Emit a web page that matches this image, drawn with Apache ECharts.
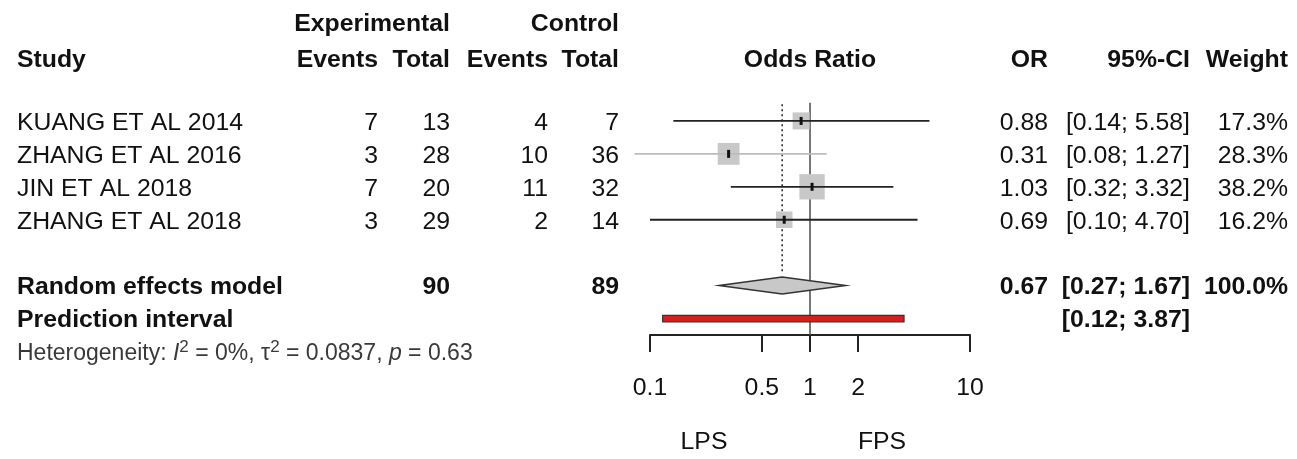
<!DOCTYPE html>
<html><head><meta charset="utf-8">
<script src="https://cdn.jsdelivr.net/npm/echarts@6/dist/echarts.min.js"></script>
<style>html,body{margin:0;padding:0;background:#fff}#c{width:1297px;height:459px}</style>
</head><body><div id="c"></div>
<script>
// ---------- data ----------
const studies   = ['KUANG ET AL 2014', 'ZHANG ET AL 2016', 'JIN ET AL 2018', 'ZHANG ET AL 2018'];
const expEvents = [7, 3, 7, 3];
const expTotal  = [13, 28, 20, 29];
const ctlEvents = [4, 10, 11, 2];
const ctlTotal  = [7, 36, 32, 14];
const oddsRatio = [0.88, 0.31, 1.03, 0.69];
const ciLower   = [0.14, 0.08, 0.32, 0.10];
const ciUpper   = [5.58, 1.27, 3.32, 4.70];
const weights   = [17.3, 28.3, 38.2, 16.2];
const pooledTotals = [90, 89];
const pooledOR  = [0.67];
const pooledCI  = [0.27, 1.67];
const pooledWeight = [100.0];
const predCI    = [0.12, 3.87];
const heteroI2  = ['0%'];
const heteroTau2 = ['0.0837'];
const heteroP   = ['0.63'];
const tickValues = [0.1, 0.5, 1, 2, 10];
const tickLabels = ['0.1', '0.5', '1', '2', '10'];
const favourLabels = ['LPS', 'FPS'];

// ---------- layout / style ----------
const FONT = "'Liberation Sans', Arial, sans-serif";
const FS = 24.8;
const TXT = '#111';
const TEXT_DY = 2;
const studyRows = [1, 2, 3, 4];
const rowRE = 6, rowPI = 7;
const rowHead1 = -2.0, rowHead2 = -0.91, rowHet = 8.0, rowFav = 10.69;
const col = {study: 17, expEv: 378, expTot: 450, ctlEv: 548, ctlTot: 619, odds: 810, or: 1048, ci: 1190, w: 1288};
const favX = [704, 882];
const lineColors = ['#222', '#bdbdbd', '#222', '#222'];
const L = Math.log10;
const fmtCI = (a, b) => '[' + a.toFixed(2) + '; ' + b.toFixed(2) + ']';

// ---------- text entries ----------
const texts = [];
function T(x, u, text, align, bold, extra) {
  texts.push(Object.assign({x, u, text, align, bold}, extra || {}));
}
T(col.expTot, rowHead1, 'Experimental', 'right', true);
T(col.ctlTot, rowHead1, 'Control', 'right', true);
T(col.study, rowHead2, 'Study', 'left', true);
T(col.expEv, rowHead2, 'Events', 'right', true);
T(col.expTot, rowHead2, 'Total', 'right', true);
T(col.ctlEv, rowHead2, 'Events', 'right', true);
T(col.ctlTot, rowHead2, 'Total', 'right', true);
T(col.odds, rowHead2, 'Odds Ratio', 'center', true);
T(col.or, rowHead2, 'OR', 'right', true);
T(col.ci, rowHead2, '95%-CI', 'right', true);
T(col.w, rowHead2, 'Weight', 'right', true);
studies.forEach((s, i) => {
  const u = studyRows[i];
  T(col.study, u, s, 'left', false);
  T(col.expEv, u, String(expEvents[i]), 'right', false);
  T(col.expTot, u, String(expTotal[i]), 'right', false);
  T(col.ctlEv, u, String(ctlEvents[i]), 'right', false);
  T(col.ctlTot, u, String(ctlTotal[i]), 'right', false);
  T(col.or, u, oddsRatio[i].toFixed(2), 'right', false);
  T(col.ci, u, fmtCI(ciLower[i], ciUpper[i]), 'right', false);
  T(col.w, u, weights[i].toFixed(1) + '%', 'right', false);
});
T(col.study, rowRE, 'Random effects model', 'left', true);
T(col.expTot, rowRE, String(pooledTotals[0]), 'right', true);
T(col.ctlTot, rowRE, String(pooledTotals[1]), 'right', true);
T(col.or, rowRE, pooledOR[0].toFixed(2), 'right', true);
T(col.ci, rowRE, fmtCI(pooledCI[0], pooledCI[1]), 'right', true);
T(col.w, rowRE, pooledWeight[0].toFixed(1) + '%', 'right', true);
T(col.study, rowPI, 'Prediction interval', 'left', true);
T(col.ci, rowPI, fmtCI(predCI[0], predCI[1]), 'right', true);
T(col.study, rowHet, 'Heterogeneity: {i|I}{sup|2} = ' + heteroI2[0] + ', τ{sup|2} = ' + heteroTau2[0] + ', {i|p} = ' + heteroP[0], 'left', false,
  {size: 23, color: '#3a3a3a', rich: {
    i: {fontStyle: 'italic', fontSize: 23, fontFamily: FONT, fill: '#3a3a3a', lineHeight: 30},
    sup: {fontSize: 17, fontFamily: FONT, fill: '#3a3a3a', verticalAlign: 'top', lineHeight: 12}
  }});
T(favX[0], rowFav, favourLabels[0], 'center', false);
T(favX[1], rowFav, favourLabels[1], 'center', false);

// ---------- chart ----------
const chart = echarts.init(document.getElementById('c'), null, {renderer: 'canvas'});
const tickLogs = tickValues.map(L);

const option = {
  animation: false,
  backgroundColor: '#fff',
  grid: [
    {left: 650, width: 320, top: 88, height: 247},
    {left: 0, width: 1297, top: 88, height: 247}
  ],
  xAxis: [
    {gridIndex: 0, type: 'value', position: 'bottom', min: -1, max: 1, splitLine: {show: false},
     axisLine: {show: true, onZero: false, lineStyle: {color: '#222', width: 2}},
     axisTick: {show: true, inside: false, length: 17, lineStyle: {color: '#222', width: 2}, customValues: tickLogs},
     axisLabel: {customValues: tickLogs, margin: 41, color: TXT, fontSize: FS, fontFamily: FONT,
       formatter: v => { const k = tickLogs.findIndex(t => Math.abs(t - v) < 1e-6); return k >= 0 ? tickLabels[k] : ''; }}},
    {gridIndex: 1, type: 'value', min: 0, max: 1297, show: false}
  ],
  yAxis: [
    {gridIndex: 0, type: 'value', min: 0, max: 7.5, inverse: true, show: false},
    {gridIndex: 1, type: 'value', min: 0, max: 7.5, inverse: true, show: false}
  ],
  series: [
    // reference line at OR = 1 and dotted pooled line
    {type: 'custom', xAxisIndex: 0, yAxisIndex: 0, clip: false, silent: true,
     data: [[0, 0.45, 7.5, 0], [L(pooledOR[0]), 0.49, 5.62, 1]],
     renderItem: (p, api) => {
       const a = api.coord([api.value(0), api.value(1)]);
       const b = api.coord([api.value(0), api.value(2)]);
       const dotted = api.value(3) === 1;
       return {type: 'line', shape: {x1: a[0], y1: a[1], x2: b[0], y2: b[1]},
         style: dotted ? {stroke: '#222', lineWidth: 1.5, lineDash: [2, 3]} : {stroke: '#555', lineWidth: 1.6}};
     }},
    // study squares and CIs
    {type: 'custom', xAxisIndex: 0, yAxisIndex: 0, clip: false, silent: true,
     data: studies.map((s, i) => [L(oddsRatio[i]), studyRows[i], L(ciLower[i]), L(ciUpper[i]), weights[i]]),
     renderItem: (p, api) => {
       const i = p.dataIndex;
       const c = api.coord([api.value(0), api.value(1)]);
       const lo = api.coord([api.value(2), api.value(1)]);
       const hi = api.coord([api.value(3), api.value(1)]);
       const s = 4.1 * Math.sqrt(api.value(4));
       return {type: 'group', children: [
         {type: 'rect', shape: {x: c[0] - s / 2, y: c[1] - s / 2, width: s, height: s}, style: {fill: '#c8c8c8'}},
         {type: 'line', shape: {x1: lo[0], y1: lo[1], x2: hi[0], y2: hi[1]}, style: {stroke: lineColors[i], lineWidth: 1.8}},
         {type: 'rect', shape: {x: c[0] - 1.5, y: c[1] - 4, width: 3, height: 8}, style: {fill: '#111'}}
       ]};
     }},
    // pooled diamond
    {type: 'custom', xAxisIndex: 0, yAxisIndex: 0, clip: false, silent: true,
     data: [[L(pooledOR[0]), rowRE, L(pooledCI[0]), L(pooledCI[1])]],
     renderItem: (p, api) => {
       const c = api.coord([api.value(0), api.value(1)]);
       const lo = api.coord([api.value(2), api.value(1)]);
       const hi = api.coord([api.value(3), api.value(1)]);
       const h = 8.5;
       return {type: 'polygon', shape: {points: [[lo[0], lo[1]], [c[0], c[1] - h], [hi[0], hi[1]], [c[0], c[1] + h]]},
         style: {fill: '#c8c8c8', stroke: '#333', lineWidth: 1.5}};
     }},
    // prediction interval
    {type: 'custom', xAxisIndex: 0, yAxisIndex: 0, clip: false, silent: true,
     data: [[L(predCI[0]), rowPI, L(predCI[1])]],
     renderItem: (p, api) => {
       const lo = api.coord([api.value(0), api.value(1)]);
       const hi = api.coord([api.value(2), api.value(1)]);
       const h = 6.5;
       return {type: 'rect', shape: {x: lo[0], y: lo[1] - h / 2, width: hi[0] - lo[0], height: h},
         style: {fill: '#d41f1f', stroke: '#333', lineWidth: 1.2}};
     }},
    // texts
    {type: 'custom', xAxisIndex: 1, yAxisIndex: 1, clip: false, silent: true,
     data: texts.map(t => [t.x, t.u]),
     renderItem: (p, api) => {
       const t = texts[p.dataIndex];
       const c = api.coord([api.value(0), api.value(1)]);
       const style = {x: c[0], y: c[1] + TEXT_DY, text: t.text, align: t.align, verticalAlign: 'middle',
         fill: t.color || TXT, fontFamily: FONT, fontSize: t.size || FS, fontWeight: t.bold ? 'bold' : 'normal'};
       if (t.rich) style.rich = t.rich;
       return {type: 'text', style};
     }}
  ]
};
chart.setOption(option);
</script>
</body></html>
